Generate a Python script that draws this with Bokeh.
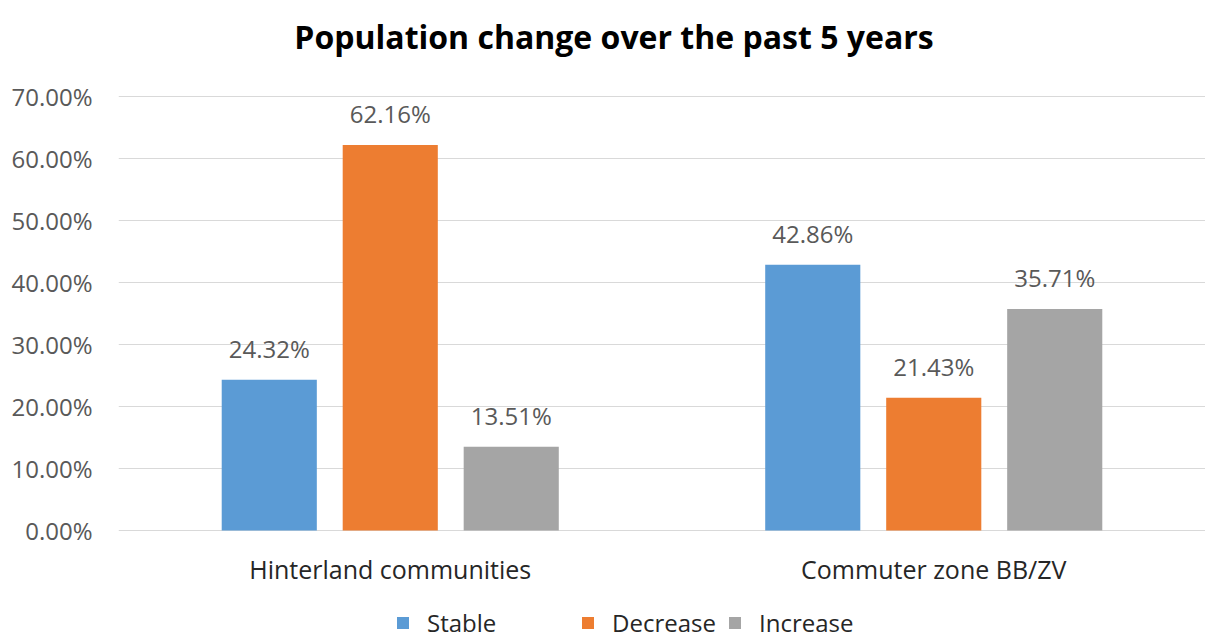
from bokeh.plotting import figure
from bokeh.models import FactorRange, Range1d, NumeralTickFormatter, Legend, LegendItem, ColumnDataSource, LabelSet, Label, FixedTicker
from bokeh.transform import dodge
from bokeh.core.properties import value
from bokeh.embed import file_html
from bokeh.resources import INLINE

title_text = "Population change over the past 5 years"
groups = ["Hinterland communities", "Commuter zone BB/ZV"]
series = ["Stable", "Decrease", "Increase"]
stable = [0.2432, 0.4286]
decrease = [0.6216, 0.2143]
increase = [0.1351, 0.3571]
colors = ["#5B9BD5", "#ED7D31", "#A5A5A5"]
yticks = [0.0, 0.1, 0.2, 0.3, 0.4, 0.5, 0.6, 0.7]

FONT = "Open Sans"

# frame covers the full canvas height; 0.7 sits at 96px, 0 at 530px
p = figure(width=1205, height=640, x_range=FactorRange(factors=groups, range_padding=0),
           y_range=Range1d(-0.1774, 0.8548), output_backend="svg", toolbar_location=None,
           min_border_left=118, min_border_right=0, min_border_top=0, min_border_bottom=0)
p.outline_line_color = None
p.background_fill_color = "white"

src = ColumnDataSource(dict(groups=groups, base=[0.0, 0.0], Stable=stable, Decrease=decrease, Increase=increase,
                            Stable_l=[f"{v*100:.2f}%" for v in stable],
                            Decrease_l=[f"{v*100:.2f}%" for v in decrease],
                            Increase_l=[f"{v*100:.2f}%" for v in increase]))

offsets = [-0.2226, 0.0, 0.2226]
renderers = []
for s, c, off in zip(series, colors, offsets):
    r = p.vbar(x=dodge("groups", off, range=p.x_range), top=s, width=0.175, source=src,
               fill_color=c, line_color=None)
    renderers.append(r)
    lbl = LabelSet(x=dodge("groups", off, range=p.x_range), y=s, text=s + "_l", source=src,
                   text_align="center", text_baseline="bottom", y_offset=15,
                   text_font=value(FONT), text_font_size=value("24px"), text_color="#595959")
    p.add_layout(lbl)

# category labels under the zero line
cat = LabelSet(x="groups", y="base", text="groups", source=src, text_align="center",
               text_baseline="middle", y_offset=-38, text_font=value(FONT),
               text_font_size=value("25px"), text_color="#262626")
p.add_layout(cat)

title = Label(x=0.9117, y=0.7965, text=title_text, text_align="center", text_baseline="middle",
              text_font=FONT, text_font_size="32px", text_font_style="bold", text_color="#000000")
p.add_layout(title)

p.yaxis.ticker = FixedTicker(ticks=yticks)
p.yaxis.formatter = NumeralTickFormatter(format="0.00%")
p.yaxis.axis_line_color = None
p.yaxis.major_tick_line_color = None
p.yaxis.minor_tick_line_color = None
p.yaxis.major_label_text_font = FONT
p.yaxis.major_label_text_font_size = "24px"
p.yaxis.major_label_text_color = "#595959"
p.yaxis.major_label_standoff = 20

p.xaxis.visible = False
p.xgrid.grid_line_color = None
p.ygrid.grid_line_color = "#D9D9D9"
p.ygrid.grid_line_width = 1

legend_x = [277, 462, 609]
for s, r, lx in zip(series, renderers, legend_x):
    lg = Legend(items=[LegendItem(label=s, renderers=[r])], orientation="horizontal",
                location=(lx, 1))
    lg.label_text_font = FONT
    lg.label_text_font_size = "24px"
    lg.label_text_color = "#262626"
    lg.glyph_width = 15
    lg.glyph_height = 15
    lg.label_standoff = 17
    lg.border_line_color = None
    lg.background_fill_alpha = 0
    lg.padding = 0
    lg.margin = 0
    p.add_layout(lg, "center")

open("out.html", "w").write(file_html(p, INLINE))
